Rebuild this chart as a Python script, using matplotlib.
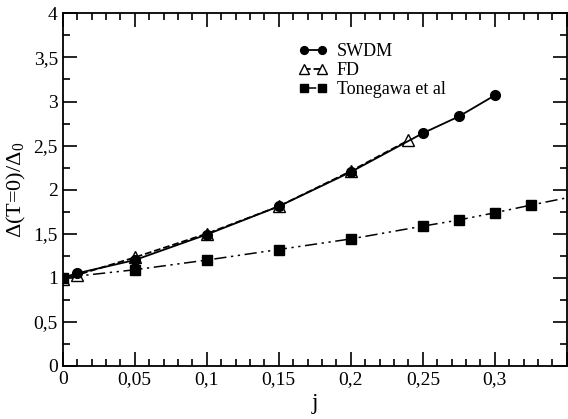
import matplotlib
matplotlib.use("Agg")
import matplotlib.pyplot as plt
from matplotlib.ticker import MultipleLocator, FuncFormatter

plt.rcParams["font.family"] = ["Liberation Serif", "DejaVu Serif"]
plt.rcParams["mathtext.fontset"] = "custom"
plt.rcParams["mathtext.rm"] = "Liberation Serif"
plt.rcParams["mathtext.it"] = "Liberation Serif:italic"

# SWDM
swdm_j = [0.0, 0.01, 0.05, 0.1, 0.15, 0.2, 0.25, 0.275, 0.3]
swdm_d = [1.0, 1.05, 1.20, 1.49, 1.81, 2.20, 2.64, 2.83, 3.07]
# FD
fd_j = [0.0, 0.01, 0.05, 0.1, 0.15, 0.2, 0.24]
fd_d = [0.98, 1.03, 1.23, 1.50, 1.81, 2.21, 2.56]
# Tonegawa et al (last point only carries the line to the frame)
ton_j = [0.0, 0.05, 0.1, 0.15, 0.2, 0.25, 0.275, 0.3, 0.325, 0.35]
ton_d = [1.0, 1.09, 1.20, 1.32, 1.44, 1.585, 1.655, 1.737, 1.824, 1.907]

fig = plt.figure(figsize=(5.68, 4.19), dpi=100)
ax = fig.add_axes([0.1104, 0.127, 0.8876, 0.841])

ax.plot(swdm_j, swdm_d, "-", color="black", lw=1.3, marker="o", ms=7,
        label="SWDM", zorder=3)
ax.plot(fd_j, fd_d, "--", color="black", lw=1.3, marker="^", ms=9,
        mfc="white", mec="black", mew=1.0, label="FD", zorder=2)
ax.plot(ton_j, ton_d, color="black", lw=1.1, dashes=[8, 3, 1.5, 3, 1.5, 3],
        marker="s", ms=6.5, markevery=slice(0, len(ton_j) - 1),
        label="Tonegawa et al", zorder=2)

ax.set_xlim(0, 0.35)
ax.set_ylim(0, 4)
ax.xaxis.set_major_locator(MultipleLocator(0.05))
ax.xaxis.set_minor_locator(MultipleLocator(0.01))
ax.yaxis.set_major_locator(MultipleLocator(0.5))
ax.yaxis.set_minor_locator(MultipleLocator(0.25))


def comma(v, pos):
    s = f"{v:.2f}".rstrip("0").rstrip(".")
    return s.replace(".", ",")


def comma_x(v, pos):
    # the frame edge at 0.35 carries no label
    if v > 0.34:
        return ""
    return comma(v, pos)


ax.xaxis.set_major_formatter(FuncFormatter(comma_x))
ax.yaxis.set_major_formatter(FuncFormatter(comma))
ax.tick_params(which="both", direction="in", top=True, right=True,
               labelsize=14, width=1.2)
ax.tick_params(which="major", length=10)
ax.tick_params(which="minor", length=5)
for sp in ax.spines.values():
    sp.set_linewidth(1.3)

ax.set_xlabel("j", fontsize=17, labelpad=4)
ax.set_ylabel(r"$\Delta$(T=0)/$\Delta_0$", fontsize=16, labelpad=4)

ax.legend(loc="upper left", bbox_to_anchor=(0.45, 0.942), frameon=False,
          fontsize=13, handlelength=1.6, handletextpad=0.5,
          labelspacing=0.12, borderpad=0, numpoints=2, markerscale=0.8)

fig.savefig("out.png", dpi=100)
